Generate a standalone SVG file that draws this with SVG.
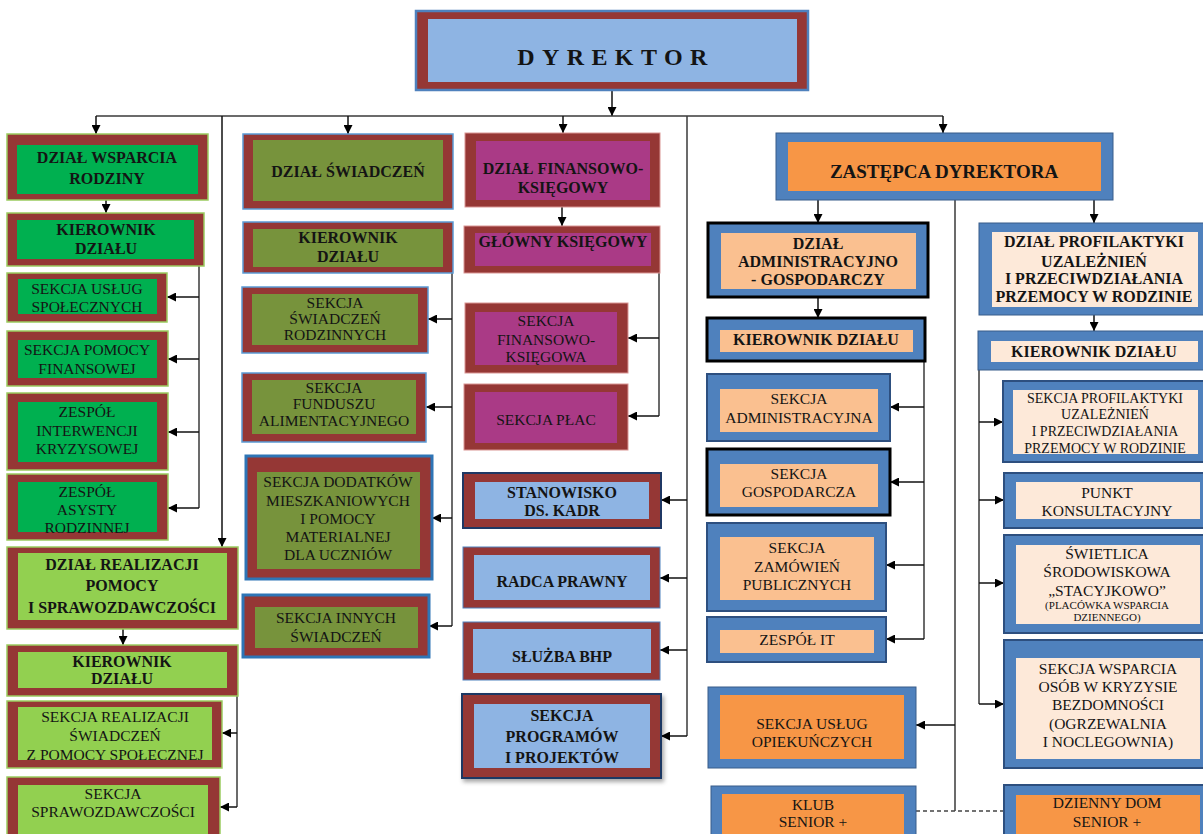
<svg xmlns="http://www.w3.org/2000/svg" width="1203" height="834" viewBox="0 0 1203 834">
<defs>
<marker id="ah" viewBox="0 0 10 10" refX="10" refY="5" markerWidth="9" markerHeight="9" markerUnits="userSpaceOnUse" orient="auto"><path d="M0,0 L10,5 L0,10 z" fill="#000"/></marker>
<filter id="sh" x="-5%" y="-5%" width="115%" height="120%"><feDropShadow dx="2" dy="3" stdDeviation="2" flood-color="#000" flood-opacity="0.35"/></filter>
<style>
.red{fill:#953735}
.blu{fill:#4F81BD}
.eg{stroke:#9BCB5F;stroke-width:1.5}
.eb{stroke:#5B9BD5;stroke-width:1.5}
.eb3{stroke:#2E75B6;stroke-width:3}
.ep{stroke:#D99694;stroke-width:1}
.ed{stroke:#1F3864;stroke-width:2}
.el{stroke:#4F81BD;stroke-width:1}
.ek{stroke:#000;stroke-width:3}
.en{stroke:#2D4F7F;stroke-width:2}
.fg{fill:#00B050}
.flg{fill:#92D050}
.fo{fill:#77933C}
.fm{fill:#AA3A86}
.fb{fill:#8EB4E3}
.fpe{fill:#FAC090}
.flp{fill:#FDE9D9}
.for{fill:#F79646}
text{font-family:"Liberation Serif","Times New Roman",serif;text-anchor:middle;fill:#141414}
.b{font-weight:bold;font-size:16px}
.r{font-size:15.5px}
.r14{font-size:14px}
.s{font-size:11px}
.ln{fill:none;stroke:#3a3a3a;stroke-width:1.5}
.ar{fill:none;stroke:#111;stroke-width:1.5;marker-end:url(#ah)}
</style>
</defs>
<rect width="1203" height="834" fill="#fff"/>

<g id="connectors">
<path class="ar" d="M612,90 V116"/>
<path class="ln" d="M96,116 H943"/>
<path class="ar" d="M96,116 V134"/>
<path class="ar" d="M348,116 V134"/>
<path class="ar" d="M563,116 V133"/>
<path class="ar" d="M943,116 V133"/>
<path class="ar" d="M222,116 V547"/>
<path class="ln" d="M687,116 V736"/>
<path class="ar" d="M687,500 H661"/>
<path class="ar" d="M687,578 H660"/>
<path class="ar" d="M687,650 H660"/>
<path class="ar" d="M687,736 H661"/>
<path class="ar" d="M106,200 V213"/>
<path class="ln" d="M199,266 V508"/>
<path class="ar" d="M199,297 H167"/>
<path class="ar" d="M199,359 H168"/>
<path class="ar" d="M199,432 H168"/>
<path class="ar" d="M199,508 H168"/>
<path class="ar" d="M123,629 V645"/>
<path class="ln" d="M237,696 V807"/>
<path class="ar" d="M237,733 H222"/>
<path class="ar" d="M237,807 H220"/>
<path class="ln" d="M452,273 V626"/>
<path class="ar" d="M452,319 H428"/>
<path class="ar" d="M452,407 H426"/>
<path class="ar" d="M452,518 H432"/>
<path class="ar" d="M452,626 H429"/>
<path class="ar" d="M562,207 V226"/>
<path class="ln" d="M659,273 V416"/>
<path class="ar" d="M659,338 H628"/>
<path class="ar" d="M659,416 H628"/>
<path class="ar" d="M818,200 V223"/>
<path class="ar" d="M1094,200 V223"/>
<path class="ln" d="M955,200 V811"/>
<path class="ar" d="M955,725 H916"/>
<path class="ar" d="M818,297 V318"/>
<path class="ln" d="M924,361 V639"/>
<path class="ar" d="M924,407 H890"/>
<path class="ar" d="M924,482 H890"/>
<path class="ar" d="M924,565 H886"/>
<path class="ar" d="M924,639 H886"/>
<path class="ar" d="M1094,315 V331"/>
<path class="ln" d="M979,370 V704"/>
<path class="ar" d="M979,422 H1003"/>
<path class="ar" d="M979,500 H1004"/>
<path class="ar" d="M979,583 H1004"/>
<path class="ar" d="M979,704 H1004"/>
<path d="M916,811 H1004" fill="none" stroke="#444" stroke-width="1.5" stroke-dasharray="4,3"/>
</g>

<g id="dyrektor"><rect x="416" y="11" width="392" height="79" class="red" stroke="#4F81BD" stroke-width="2.5"/><rect x="428" y="19" width="369" height="63" class="fb"/><text x="616" y="65" font-weight="bold" font-size="24" letter-spacing="7.4">DYREKTOR</text></g>

<g id="zastepca"><rect x="776" y="133" width="337" height="67" class="blu" stroke="#385D8A" stroke-width="1"/><rect x="788" y="142" width="313" height="49" class="for"/><text x="944" y="178" font-weight="bold" font-size="19">ZASTĘPCA DYREKTORA</text></g>

<g id="dzial-wsparcia"><rect x="7" y="134" width="201" height="66" class="red eg"/><rect x="17" y="145" width="181" height="49" class="fg"/><text class="b" x="107" y="163">DZIAŁ WSPARCIA</text><text class="b" x="107" y="184">RODZINY</text></g>
<g id="kier-wsparcia"><rect x="7" y="213" width="197" height="53" class="red eg"/><rect x="17" y="220" width="177" height="39" class="fg"/><text class="b" x="106" y="235">KIEROWNIK</text><text class="b" x="106" y="254">DZIAŁU</text></g>
<g id="sek-uslug-spol"><rect x="7" y="273" width="160" height="49" class="red eg"/><rect x="18" y="279" width="139" height="35" class="fg"/><text class="r" x="87" y="294">SEKCJA USŁUG</text><text class="r" x="87" y="312">SPOŁECZNYCH</text></g>
<g id="sek-pomocy-fin"><rect x="7" y="331" width="161" height="55" class="red eg"/><rect x="18" y="340" width="139" height="38" class="fg"/><text class="r" x="87" y="355">SEKCJA POMOCY</text><text class="r" x="87" y="374">FINANSOWEJ</text></g>
<g id="zesp-interwencji"><rect x="7" y="393" width="161" height="77" class="red eg"/><rect x="18" y="402" width="139" height="60" class="fg"/><text class="r" x="87" y="417">ZESPÓŁ</text><text class="r" x="87" y="436">INTERWENCJI</text><text class="r" x="87" y="454">KRYZYSOWEJ</text></g>
<g id="zesp-asysty"><rect x="7" y="474" width="161" height="66" class="red eg"/><rect x="18" y="482" width="139" height="50" class="fg"/><text class="r" x="87" y="497">ZESPÓŁ</text><text class="r" x="87" y="515">ASYSTY</text><text class="r" x="87" y="533">RODZINNEJ</text></g>
<g id="dzial-realizacji"><rect x="7" y="547" width="231" height="82" class="red eg"/><rect x="18" y="553" width="209" height="67" class="flg"/><text class="b" x="122" y="570">DZIAŁ REALIZACJI</text><text class="b" x="122" y="591">POMOCY</text><text class="b" x="122" y="613">I SPRAWOZDAWCZOŚCI</text></g>
<g id="kier-realizacji"><rect x="7" y="645" width="231" height="51" class="red eg"/><rect x="18" y="652" width="209" height="36" class="flg"/><text class="b" x="122" y="667">KIEROWNIK</text><text class="b" x="122" y="684">DZIAŁU</text></g>
<g id="sek-realizacji"><rect x="7" y="701" width="215" height="67" class="red eg"/><rect x="18" y="707" width="194" height="53" class="flg"/><text class="r" x="115" y="722">SEKCJA REALIZACJI</text><text class="r" x="115" y="741">ŚWIADCZEŃ</text><text class="r" x="115" y="760">Z POMOCY SPOŁECZNEJ</text></g>
<g id="sek-sprawozd"><rect x="7" y="777" width="213" height="64" class="red eg"/><rect x="18" y="785" width="190" height="50" class="flg"/><text class="r" x="113" y="799">SEKCJA</text><text class="r" x="113" y="817">SPRAWOZDAWCZOŚCI</text></g>

<g id="dzial-swiadczen"><rect x="243" y="134" width="210" height="75" class="red eb"/><rect x="253" y="140" width="190" height="61" class="fo"/><text class="b" x="348" y="177">DZIAŁ ŚWIADCZEŃ</text></g>
<g id="kier-swiadczen"><rect x="243" y="222" width="210" height="51" class="red eb"/><rect x="253" y="229" width="190" height="38" class="fo"/><text class="b" x="348" y="243">KIEROWNIK</text><text class="b" x="348" y="262">DZIAŁU</text></g>
<g id="sek-swiad-rodz"><rect x="242" y="287" width="186" height="66" class="red eb"/><rect x="252" y="294" width="166" height="51" class="fo"/><text class="r" x="335" y="308">SEKCJA</text><text class="r" x="335" y="324">ŚWIADCZEŃ</text><text class="r" x="335" y="340">RODZINNYCH</text></g>
<g id="sek-funduszu"><rect x="242" y="373" width="184" height="69" class="red eb"/><rect x="252" y="380" width="164" height="54" class="fo"/><text class="r" x="334" y="393">SEKCJA</text><text class="r" x="334" y="409">FUNDUSZU</text><text class="r" x="334" y="426">ALIMENTACYJNEGO</text></g>
<g id="sek-dodatkow"><rect x="246" y="456" width="186" height="123" class="red eb3"/><rect x="257" y="472" width="163" height="97" class="fo"/><text class="r" x="338" y="487">SEKCJA DODATKÓW</text><text class="r" x="338" y="506">MIESZKANIOWYCH</text><text class="r" x="338" y="524">I POMOCY</text><text class="r" x="338" y="542">MATERIALNEJ</text><text class="r" x="338" y="560">DLA UCZNIÓW</text></g>
<g id="sek-innych"><rect x="243" y="595" width="186" height="62" class="red eb3"/><rect x="255" y="607" width="163" height="41" class="fo"/><text class="r" x="336" y="623">SEKCJA INNYCH</text><text class="r" x="336" y="642">ŚWIADCZEŃ</text></g>

<g id="dzial-finansowy"><rect x="465" y="133" width="195" height="74" class="red ep"/><rect x="476" y="141" width="174" height="59" class="fm"/><text class="b" x="563" y="174">DZIAŁ FINANSOWO-</text><text class="b" x="563" y="193">KSIĘGOWY</text></g>
<g id="glowny-ksiegowy"><rect x="464" y="226" width="196" height="47" class="red ep"/><rect x="475" y="233" width="176" height="33" class="fm"/><text class="b" x="563" y="247">GŁÓWNY KSIĘGOWY</text></g>
<g id="sek-finansowa"><rect x="465" y="303" width="163" height="70" class="red ep"/><rect x="475" y="312" width="142" height="53" class="fm"/><text class="r" x="546" y="326">SEKCJA</text><text class="r" x="546" y="345">FINANSOWO-</text><text class="r" x="546" y="362">KSIĘGOWA</text></g>
<g id="sek-plac"><rect x="464" y="384" width="164" height="66" class="red ep"/><rect x="475" y="392" width="142" height="51" class="fm"/><text class="r" x="546" y="425">SEKCJA PŁAC</text></g>

<g id="stanowisko-kadr"><rect x="463" y="473" width="198" height="55" class="red ed"/><rect x="475" y="482" width="174" height="37" class="fb"/><text class="b" x="562" y="498">STANOWISKO</text><text class="b" x="562" y="516">DS. KADR</text></g>
<g id="radca"><rect x="463" y="547" width="197" height="61" class="red el"/><rect x="474" y="555" width="176" height="45" class="fb"/><text class="b" x="562" y="587">RADCA PRAWNY</text></g>
<g id="bhp"><rect x="463" y="622" width="197" height="58" class="red el"/><rect x="473" y="629" width="178" height="44" class="fb"/><text class="b" x="562" y="662">SŁUŻBA BHP</text></g>
<g id="sek-programow"><rect x="462" y="694" width="199" height="84" class="red ed" filter="url(#sh)"/><rect x="474" y="704" width="176" height="64" class="fb"/><text class="b" x="562" y="721">SEKCJA</text><text class="b" x="562" y="742">PROGRAMÓW</text><text class="b" x="562" y="763">I PROJEKTÓW</text></g>

<g id="dzial-admin"><rect x="708" y="223" width="220" height="74" class="blu ek"/><rect x="721" y="233" width="195" height="56" class="fpe"/><text class="b" x="818" y="249">DZIAŁ</text><text class="b" x="818" y="267">ADMINISTRACYJNO</text><text class="b" x="818" y="285">- GOSPODARCZY</text></g>
<g id="kier-admin"><rect x="707" y="318" width="218" height="43" class="blu ek"/><rect x="720" y="330" width="193" height="22" class="fpe"/><text class="b" x="816" y="345">KIEROWNIK DZIAŁU</text></g>
<g id="sek-admin"><rect x="707" y="374" width="183" height="67" class="blu en"/><rect x="720" y="389" width="158" height="43" class="fpe"/><text class="r" x="799" y="404">SEKCJA</text><text class="r" x="799" y="423">ADMINISTRACYJNA</text></g>
<g id="sek-gospod"><rect x="707" y="449" width="183" height="66" class="blu ek"/><rect x="720" y="464" width="158" height="43" class="fpe"/><text class="r" x="799" y="479">SEKCJA</text><text class="r" x="799" y="497">GOSPODARCZA</text></g>
<g id="sek-zamowien"><rect x="707" y="523" width="179" height="88" class="blu en"/><rect x="720" y="537" width="154" height="63" class="fpe"/><text class="r" x="797" y="553">SEKCJA</text><text class="r" x="797" y="572">ZAMÓWIEŃ</text><text class="r" x="797" y="590">PUBLICZNYCH</text></g>
<g id="zesp-it"><rect x="707" y="617" width="179" height="45" class="blu en"/><rect x="720" y="630" width="154" height="23" class="fpe"/><text class="r" x="797" y="645">ZESPÓŁ IT</text></g>
<g id="sek-opiek"><rect x="708" y="687" width="208" height="81" class="blu" stroke="#385D8A" stroke-width="1"/><rect x="720" y="695" width="184" height="64" class="for"/><text class="r" x="812" y="729">SEKCJA USŁUG</text><text class="r" x="812" y="747">OPIEKUŃCZYCH</text></g>
<g id="klub-senior"><rect x="711" y="786" width="205" height="55" class="blu" stroke="#385D8A" stroke-width="1"/><rect x="722" y="794" width="182" height="45" class="for"/><text class="r" x="813" y="810">KLUB</text><text class="r" x="813" y="827">SENIOR +</text></g>

<g id="dzial-profil"><rect x="979" y="223" width="226" height="92" class="blu" stroke="#385D8A" stroke-width="1"/><rect x="992" y="232" width="206" height="75" class="flp"/><text class="b" x="1094" y="247">DZIAŁ PROFILAKTYKI</text><text class="b" x="1094" y="267">UZALEŻNIEŃ</text><text class="b" x="1094" y="284">I PRZECIWDZIAŁANIA</text><text class="b" x="1094" y="302">PRZEMOCY W RODZINIE</text></g>
<g id="kier-profil"><rect x="978" y="331" width="227" height="39" class="blu" stroke="#385D8A" stroke-width="1"/><rect x="991" y="341" width="207" height="21" class="flp"/><text class="b" x="1094" y="357">KIEROWNIK DZIAŁU</text></g>
<g id="sek-profil"><rect x="1003" y="381" width="202" height="81" class="blu en"/><rect x="1013" y="390" width="185" height="64" class="flp"/><text class="r14" x="1105" y="403">SEKCJA PROFILAKTYKI</text><text class="r14" x="1105" y="419">UZALEŻNIEŃ</text><text class="r14" x="1105" y="436">I PRZECIWDZIAŁANIA</text><text class="r14" x="1105" y="453">PRZEMOCY W RODZINIE</text></g>
<g id="punkt"><rect x="1004" y="473" width="201" height="55" class="blu en"/><rect x="1016" y="482" width="184" height="37" class="flp"/><text class="r" x="1107" y="498">PUNKT</text><text class="r" x="1107" y="516">KONSULTACYJNY</text></g>
<g id="swietlica"><rect x="1004" y="535" width="201" height="98" class="blu en"/><rect x="1016" y="545" width="184" height="79" class="flp"/><text class="r" x="1107" y="559">ŚWIETLICA</text><text class="r" x="1107" y="577">ŚRODOWISKOWA</text><text class="r" x="1107" y="596">„STACYJKOWO”</text><text class="s" x="1107" y="609">(PLACÓWKA WSPARCIA</text><text class="s" x="1107" y="621">DZIENNEGO)</text></g>
<g id="sek-wsparcia-osob"><rect x="1004" y="640" width="201" height="128" class="blu en"/><rect x="1016" y="658" width="184" height="101" class="flp"/><text class="r" x="1108" y="674">SEKCJA WSPARCIA</text><text class="r" x="1108" y="692">OSÓB W KRYZYSIE</text><text class="r" x="1108" y="710">BEZDOMNOŚCI</text><text class="r" x="1108" y="729">(OGRZEWALNIA</text><text class="r" x="1108" y="747">I NOCLEGOWNIA)</text></g>
<g id="dzienny-dom"><rect x="1004" y="785" width="201" height="56" class="blu en"/><rect x="1016" y="795" width="184" height="45" class="for"/><text class="r" x="1107" y="808">DZIENNY DOM</text><text class="r" x="1107" y="827">SENIOR +</text></g>
</svg>
